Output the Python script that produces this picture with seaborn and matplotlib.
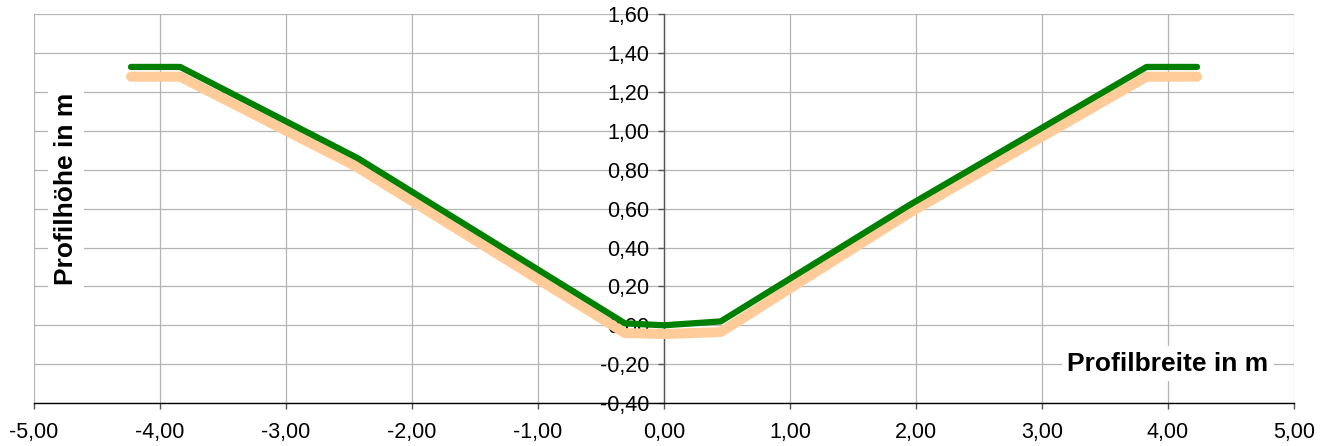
import matplotlib
matplotlib.use("Agg")
import matplotlib.pyplot as plt
import matplotlib.ticker as mticker
import seaborn as sns
import numpy as np
import pandas as pd

# Profile data (width in m, height in m)
green_x = [-4.23, -3.84, -2.43, -0.31, 0.00, 0.45, 1.95, 3.83, 4.23]
green_y = [1.33, 1.33, 0.86, 0.01, 0.00, 0.02, 0.62, 1.33, 1.33]

orange_x = [-4.23, -3.84, -2.45, -0.31, 0.00, 0.45, 1.95, 3.83, 4.23]
orange_y = [1.28, 1.28, 0.82, -0.04, -0.045, -0.035, 0.58, 1.28, 1.28]

x_ticks = np.arange(-5, 5.01, 1.0)
y_ticks = np.arange(-0.4, 1.601, 0.2)

x_label = "Profilbreite in m"
y_label = "Profilhöhe in m"


def comma_fmt(v, pos):
    s = f"{v:.2f}".replace(".", ",")
    if s == "-0,00":
        s = "0,00"
    return s


sns.set_theme(style="whitegrid")
plt.rcParams["font.family"] = ["Liberation Sans", "DejaVu Sans"]
plt.rcParams["axes.unicode_minus"] = False

fig = plt.figure(figsize=(13.33, 4.46), dpi=100)
ax = fig.add_axes([34 / 1333, 43 / 446, 1260 / 1333, 388.5 / 446])

df_o = pd.DataFrame({"x": orange_x, "y": orange_y})
df_g = pd.DataFrame({"x": green_x, "y": green_y})
sns.lineplot(data=df_o, x="x", y="y", sort=False, color="#FFCC99", linewidth=7.2,
             solid_capstyle="round", solid_joinstyle="round", ax=ax, zorder=3)
sns.lineplot(data=df_g, x="x", y="y", sort=False, color="#008000", linewidth=4.5,
             solid_capstyle="round", solid_joinstyle="round", ax=ax, zorder=4)

ax.set_xlim(-5, 5)
ax.set_ylim(-0.4, 1.6)
ax.set_xticks(x_ticks)
ax.set_yticks(y_ticks)
ax.xaxis.set_major_formatter(mticker.FuncFormatter(comma_fmt))
ax.yaxis.set_major_formatter(mticker.FuncFormatter(comma_fmt))

ax.grid(True, color="#b4b4b4", linewidth=0.9)
ax.set_facecolor("white")
for side in ["top", "right"]:
    ax.spines[side].set_visible(False)
ax.spines["left"].set_position(("data", 0))
ax.spines["left"].set_color("#555555")
ax.spines["left"].set_linewidth(1.0)
ax.spines["bottom"].set_color("black")
ax.spines["bottom"].set_linewidth(1.0)
ax.spines["left"].set_zorder(2)

ax.tick_params(axis="x", direction="out", length=4.5, width=1, color="#555555",
               labelsize=15.5, labelcolor="black", pad=9, bottom=True)
ax.tick_params(axis="y", direction="out", length=4.5, width=1, color="#555555",
               labelsize=15.5, labelcolor="black", pad=6, left=True)
ax.set_xlabel("")
ax.set_ylabel("")

box = dict(facecolor="white", edgecolor="none", pad=4)
ax.text(0.9, 0.1005, x_label, transform=ax.transAxes, ha="center", va="center",
        fontsize=19, fontweight="bold", color="black", bbox=box, zorder=5)
ax.text(0.0254, 0.552, y_label, transform=ax.transAxes, ha="center", va="center",
        rotation=90, fontsize=19, fontweight="bold", color="black", bbox=box, zorder=5)

fig.savefig("out.png", dpi=100)
